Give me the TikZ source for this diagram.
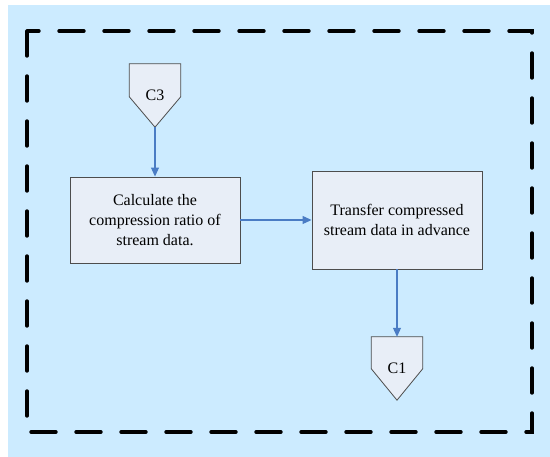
\documentclass[tikz,border=0pt]{standalone}
\usepackage{fontspec}
\setmainfont{Liberation Serif}
\usepackage{xcolor}
\usetikzlibrary{positioning, arrows.meta, calc}

\definecolor{bgblue}{HTML}{CCEBFF}
\definecolor{boxfill}{HTML}{E8EEF7}
\definecolor{boxline}{HTML}{4D4D4D}
\definecolor{flowblue}{HTML}{4A7CC4}

\begin{document}
\begin{tikzpicture}[
  x=1pt, y=-1pt,
  >={Triangle[length=9pt, width=8pt]},
  every node/.style={font=\rmfamily\fontsize{16}{20}\selectfont},
  procbox/.style={draw=boxline, fill=boxfill, line width=0.9pt, minimum width=170pt, align=center, inner sep=0pt},
  offpage/.style={minimum width=51pt, minimum height=63pt, inner sep=0pt},
  flow/.style={->, draw=flowblue, line width=1.1pt}
]
\useasboundingbox (0,0) rectangle (550,457);
% Background and dashed frame
\fill[bgblue] (8,5) rectangle (550,457);
\draw[line width=3.4pt, dash pattern=on 25pt off 20pt, line cap=round] (27,31) rectangle (532,432);

% Off-page connector C3
\node[offpage] (c3) at (155,95.5) {};
\draw[draw=boxline, fill=boxfill, line width=0.8pt] (c3.north west) -- (c3.north east) -- ++(0,33) -- (c3.south) -- ($(c3.north west)+(0,33)$) -- cycle;
\node (c3text) at (155,95) {C3};

% Process boxes
\node[procbox, minimum height=86pt] (calc) at (155,220) {Calculate the\\compression ratio of\\stream data.};
\node[procbox, minimum height=98pt] (transfer) at (397,220) {Transfer compressed\\stream data in advance};

% Off-page connector C1
\node[offpage] (c1) at (397,368.5) {};
\draw[draw=boxline, fill=boxfill, line width=0.8pt] (c1.north west) -- (c1.north east) -- ++(0,32) -- (c1.south) -- ($(c1.north west)+(0,32)$) -- cycle;
\node (c1text) at (397,368) {C1};

% Flow arrows
\draw[flow] (c3.south) -- (calc.north);
\draw[flow] (calc.east) -- (transfer.west);
\draw[flow] (transfer.south) -- (c1.north);
\end{tikzpicture}
\end{document}
